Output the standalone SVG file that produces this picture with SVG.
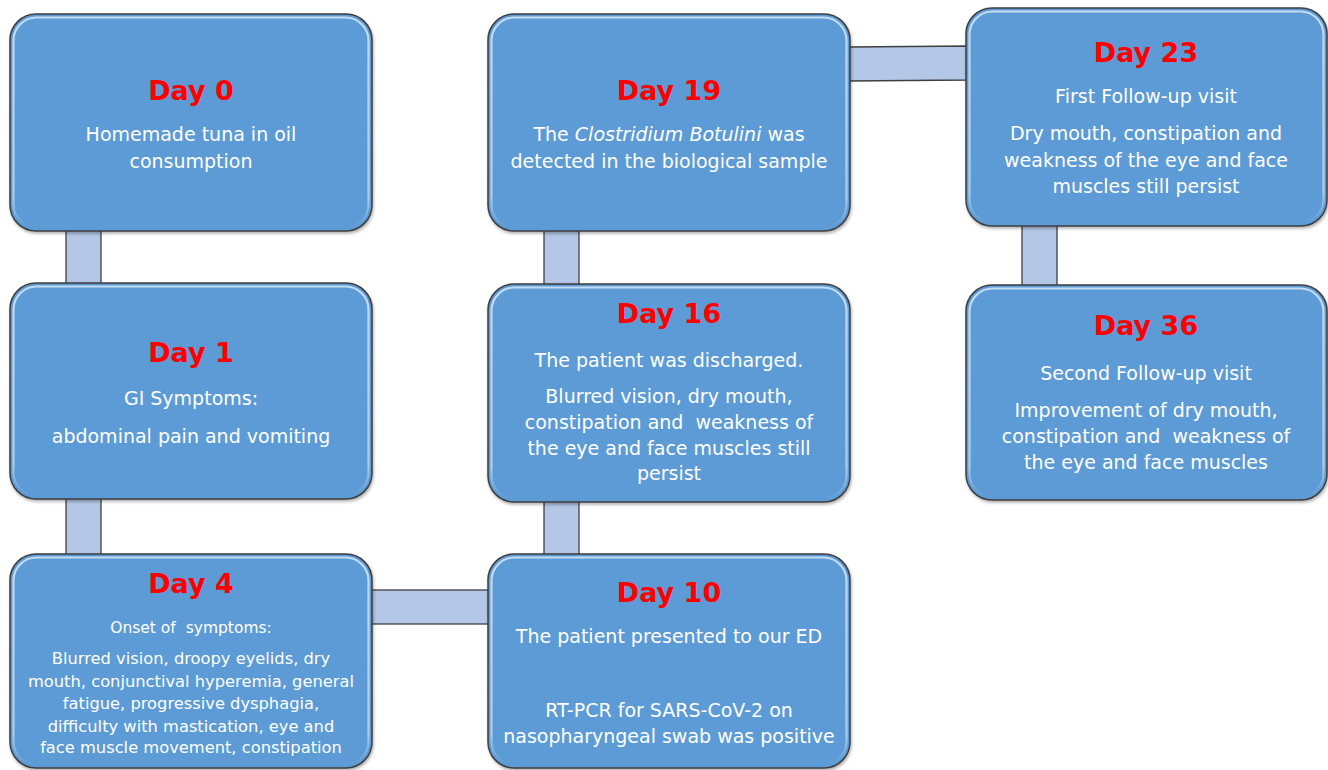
<svg xmlns="http://www.w3.org/2000/svg" width="1328" height="770" viewBox="0 0 1328 770">
<defs>
<linearGradient id="bevel" x1="0" y1="0" x2="0" y2="1">
<stop offset="0" stop-color="#D6E6F7"/>
<stop offset="0.85" stop-color="#BCD6F0"/>
<stop offset="1" stop-color="#5B9BD5"/>
</linearGradient>
<filter id="sh" x="-5%" y="-5%" width="110%" height="115%">
<feDropShadow dx="1" dy="2" stdDeviation="1.5" flood-color="#000" flood-opacity="0.3"/>
</filter>
</defs>
<style>
.box{fill:#5B9BD5;stroke:#3F3F3F;stroke-width:1.5}
.hl{fill:none;stroke:url(#bevel);stroke-width:2.2;opacity:0.85}
.con{fill:#B4C7E7;stroke:#3F3F3F;stroke-width:1.3}
text{font-family:"Comic Sans MS","DejaVu Sans",sans-serif;text-anchor:middle;white-space:pre}
.t{fill:#FF0000;font-size:27px;font-weight:bold}
.b{fill:#FFFFFF;font-size:19px}
.s{fill:#FFFFFF;font-size:15.5px}
.m{fill:#FFFFFF;font-size:16.3px}
</style>
<rect width="1328" height="770" fill="#FFFFFF"/>
<g id="connectors">
<rect class="con" x="66" y="228" width="35" height="58"/>
<rect class="con" x="66" y="496" width="35" height="61"/>
<rect class="con" x="369" y="590" width="122" height="34"/>
<rect class="con" x="544" y="499" width="35" height="58"/>
<rect class="con" x="544" y="228" width="35" height="59"/>
<polygon class="con" points="847,47 969,46 969,80 847,81"/>
<rect class="con" x="1022" y="223" width="35" height="65"/>
</g>
<g id="day0">
<rect class="box" filter="url(#sh)" x="10" y="14" width="362" height="217" rx="26"/>
<rect class="hl" x="13.5" y="17.5" width="355" height="210" rx="23"/>
<text class="t" x="191" y="100">Day 0</text>
<text class="b" x="191" y="141">Homemade tuna in oil</text>
<text class="b" x="191" y="168">consumption</text>
</g>
<g id="day1">
<rect class="box" filter="url(#sh)" x="10" y="283" width="362" height="216" rx="26"/>
<rect class="hl" x="13.5" y="286.5" width="355" height="209" rx="23"/>
<text class="t" x="191" y="362">Day 1</text>
<text class="b" x="191" y="405">GI Symptoms:</text>
<text class="b" x="191" y="443">abdominal pain and vomiting</text>
</g>
<g id="day4">
<rect class="box" filter="url(#sh)" x="10" y="554" width="362" height="214" rx="26"/>
<rect class="hl" x="13.5" y="557.5" width="355" height="207" rx="23"/>
<text class="t" x="191" y="593">Day 4</text>
<text class="s" x="191" y="633">Onset of  symptoms:</text>
<text class="m" x="191" y="664">Blurred vision, droopy eyelids, dry</text>
<text class="m" x="191" y="687">mouth, conjunctival hyperemia, general</text>
<text class="m" x="191" y="709">fatigue, progressive dysphagia,</text>
<text class="m" x="191" y="732">difficulty with mastication, eye and</text>
<text class="m" x="191" y="753">face muscle movement, constipation</text>
</g>
<g id="day10">
<rect class="box" filter="url(#sh)" x="488" y="554" width="362" height="214" rx="26"/>
<rect class="hl" x="491.5" y="557.5" width="355" height="207" rx="23"/>
<text class="t" x="669" y="602">Day 10</text>
<text class="b" x="669" y="643">The patient presented to our ED</text>
<text class="b" x="669" y="717">RT-PCR for SARS-CoV-2 on</text>
<text class="b" x="669" y="743">nasopharyngeal swab was positive</text>
</g>
<g id="day16">
<rect class="box" filter="url(#sh)" x="488" y="284" width="362" height="218" rx="26"/>
<rect class="hl" x="491.5" y="287.5" width="355" height="211" rx="23"/>
<text class="t" x="669" y="323">Day 16</text>
<text class="b" x="669" y="367">The patient was discharged.</text>
<text class="b" x="669" y="403">Blurred vision, dry mouth,</text>
<text class="b" x="669" y="429">constipation and  weakness of</text>
<text class="b" x="669" y="455">the eye and face muscles still</text>
<text class="b" x="669" y="480">persist</text>
</g>
<g id="day19">
<rect class="box" filter="url(#sh)" x="488" y="14" width="362" height="217" rx="26"/>
<rect class="hl" x="491.5" y="17.5" width="355" height="210" rx="23"/>
<text class="t" x="669" y="100">Day 19</text>
<text class="b" x="669" y="141">The <tspan font-style="italic">Clostridium Botulini</tspan> was</text>
<text class="b" x="669" y="168">detected in the biological sample</text>
</g>
<g id="day23">
<rect class="box" filter="url(#sh)" x="966" y="8" width="361" height="218" rx="26"/>
<rect class="hl" x="969.5" y="11.5" width="354" height="211" rx="23"/>
<text class="t" x="1146" y="62">Day 23</text>
<text class="b" x="1146" y="103">First Follow-up visit</text>
<text class="b" x="1146" y="140">Dry mouth, constipation and</text>
<text class="b" x="1146" y="167">weakness of the eye and face</text>
<text class="b" x="1146" y="193">muscles still persist</text>
</g>
<g id="day36">
<rect class="box" filter="url(#sh)" x="966" y="285" width="361" height="215" rx="26"/>
<rect class="hl" x="969.5" y="288.5" width="354" height="208" rx="23"/>
<text class="t" x="1146" y="335">Day 36</text>
<text class="b" x="1146" y="380">Second Follow-up visit</text>
<text class="b" x="1146" y="417">Improvement of dry mouth,</text>
<text class="b" x="1146" y="443">constipation and  weakness of</text>
<text class="b" x="1146" y="469">the eye and face muscles</text>
</g>
</svg>
